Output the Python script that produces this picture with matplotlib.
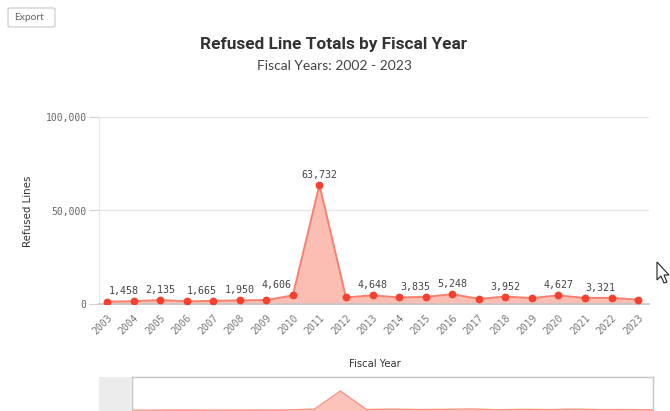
import matplotlib
matplotlib.use("Agg")
import matplotlib.pyplot as plt
from matplotlib.patches import Rectangle, Polygon, FancyBboxPatch

# Refused line totals per fiscal year
years = [2003, 2004, 2005, 2006, 2007, 2008, 2009, 2010, 2011, 2012, 2013,
         2014, 2015, 2016, 2017, 2018, 2019, 2020, 2021, 2022, 2023]
refused = [1300, 1458, 2135, 1400, 1665, 1950, 2100, 4606, 63732, 3500, 4648,
           3500, 3835, 5248, 2800, 3952, 3200, 4627, 3200, 3321, 2300]
# Years whose value is printed above the point
labeled_years = [2004, 2005, 2007, 2008, 2010, 2011, 2013, 2015, 2016, 2018, 2020, 2022]
y_ticks = [0, 50000, 100000]
y_tick_labels = ["0", "50,000", "100,000"]

title = "Refused Line Totals by Fiscal Year"
subtitle = "Fiscal Years: 2002 - 2023"

# horizontal nudges (pixels) keeping neighbouring value labels apart
label_dx_px = {2004: -10, 2007: -11, 2010: -16, 2015: -10, 2022: -11}

W, H = 670, 411
fig = plt.figure(figsize=(W / 100, H / 100), dpi=100)


def box(l, t, r, b):
    """Axes rectangle from pixel edges (top-left origin)."""
    return [l / W, 1 - b / H, (r - l) / W, (b - t) / H]


def fx(x):
    return x / W


def fy(y):
    return 1 - y / H


LINE = "#f7806e"
FILL = "#fcb6ab"
MARK = "#f4402c"
MONO = "DejaVu Sans Mono"
PX = 72 / 100  # points per pixel

# ---- main chart ----
ax = fig.add_axes(box(99, 117, 649, 304))
ax.fill_between(years, refused, 0, color=FILL, alpha=0.9, lw=0, zorder=2)
ax.plot(years, refused, color=LINE, lw=1.4, zorder=3)
ax.plot(years, refused, "o", color=MARK, ms=4.6, mec=MARK, zorder=4)

for yr, v in zip(years, refused):
    if yr in labeled_years:
        dx = label_dx_px.get(yr, 0) * PX
        ax.annotate(f"{v:,}", (yr, v), xytext=(dx, 10 * PX), textcoords="offset points",
                    ha="center", va="center", fontsize=7.2, family=MONO,
                    color="#444444", zorder=5)

ax.set_xlim(2002.70, 2023.41)
ax.set_ylim(0, 100000)
ax.set_yticks(y_ticks)
ax.set_yticklabels(y_tick_labels, family=MONO, fontsize=7, color="#666666")
ax.set_xticks(years)
ax.set_xticklabels([str(y) for y in years], family=MONO, fontsize=7,
                   color="#777777", rotation=45, ha="right", va="top",
                   rotation_mode="anchor")
ax.tick_params(axis="x", length=0, pad=6)
ax.tick_params(axis="y", length=7, color="#d0d0d0", width=0.8, pad=2)
ax.grid(axis="y", color="#e6e6e6", lw=1)
ax.set_axisbelow(True)
for s in ("top", "right"):
    ax.spines[s].set_visible(False)
ax.spines["left"].set_color("#e6e6e6")
ax.spines["bottom"].set_color("#c4c4c4")
ax.spines["bottom"].set_linewidth(1.2)
ax.set_facecolor("none")

fig.text(fx(28), fy(211), "Refused Lines", rotation=90, ha="center", va="center",
         fontsize=7.4, color="#333333", family="DejaVu Sans")
fig.text(fx(375), fy(364), "Fiscal Year", ha="center", va="center",
         fontsize=7.2, color="#333333", family="DejaVu Sans")

# ---- titles ----
fig.text(fx(334), fy(44), title, ha="center", va="center", fontsize=12.4,
         fontweight="bold", color="#333333",
         family=["Liberation Sans Narrow", "Roboto", "DejaVu Sans"])
fig.text(fx(334), fy(66), subtitle, ha="center", va="center", fontsize=10,
         color="#444444", family=["Lato", "DejaVu Sans"])

# ---- export button ----
fig.patches.append(FancyBboxPatch((fx(8), fy(27)), fx(47), 19 / H,
                                  boxstyle="round,pad=0,rounding_size=0.003",
                                  transform=fig.transFigure, facecolor="white",
                                  edgecolor="#c8c8c8", lw=0.8))
fig.text(fx(29.5), fy(17.5), "Export", ha="center", va="center", fontsize=7.4,
         color="#666666", family=["Lato", "DejaVu Sans"])

# ---- range navigator strip ----
fig.patches.append(Rectangle((fx(99), fy(417)), 33 / W, 40 / H,
                             transform=fig.transFigure, facecolor="#ececec",
                             edgecolor="none"))
nav = fig.add_axes(box(132, 377, 653, 417))
nav.fill_between(years, refused, 0, color="#fcc3ba", lw=0)
nav.plot(years, refused, color="#f99483", lw=1.0)
nav.set_xlim(2003, 2023)
nav.set_ylim(-21000, 109500)
nav.set_xticks([])
nav.set_yticks([])
for s in nav.spines.values():
    s.set_color("#c4c4c4")
    s.set_linewidth(1.0)
nav.spines["bottom"].set_visible(False)

# ---- mouse pointer ----
tip_x, tip_y = 657, 262
arrow = [(0, 0), (0, 18), (4, 14), (7, 21), (10, 20), (7, 13), (12, 13)]
fig.patches.append(Polygon([(fx(tip_x + dx), fy(tip_y + dy)) for dx, dy in arrow],
                           closed=True, transform=fig.transFigure,
                           facecolor="white", edgecolor="#222222", lw=0.8))

fig.savefig("out.png", dpi=100)
